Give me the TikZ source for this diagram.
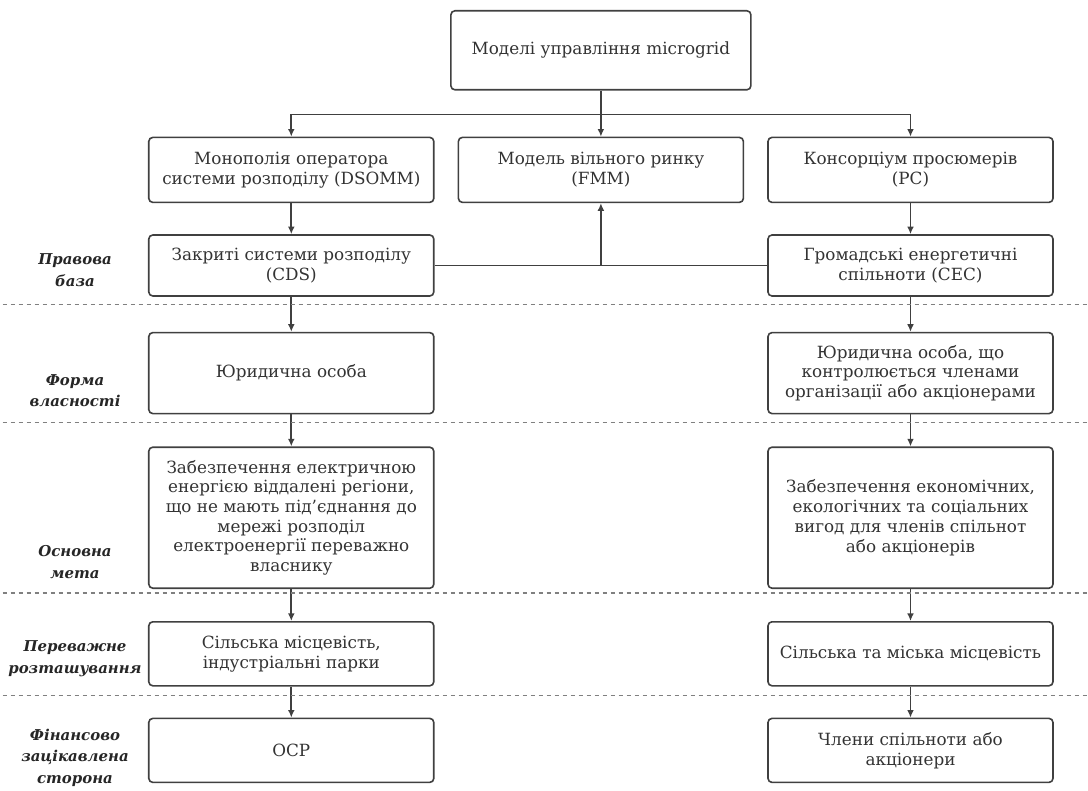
\documentclass[tikz,border=0pt]{standalone}
\usepackage{fontspec}
\setmainfont{DejaVu Serif}
\usetikzlibrary{arrows.meta, positioning}

\begin{document}
\begin{tikzpicture}[
    font=\fontsize{12.6}{14.8}\selectfont,
    node distance=23.25pt and 17.25pt,
    box/.style={draw=black!75, line width=1.2pt, rounded corners=3pt, fill=white,
                minimum width=213.75pt, align=center, text=black!80, inner sep=3pt},
    rowname/.style={align=center, text=black!85,
                    font=\fontsize{11.2}{16}\selectfont\bfseries\itshape},
    conn/.style={draw=black!75, line width=1.3pt},
    arrow/.style={conn, -{Latex[length=2mm, width=1.8mm]}},
    rowsep/.style={draw=black!50, line width=1pt, dash pattern=on 3.5pt off 2.5pt}
]

% --- Top ---
\node[box, minimum width=225pt, minimum height=59.25pt] (models) {Моделі управління microgrid};
\coordinate[below=18pt of models] (split);

% --- Models ---
\node[box, minimum height=48.75pt, below=34.5pt of models] (fmm) {Модель вільного ринку\\(FMM)};
\node[box, minimum height=48.75pt, left=of fmm] (dsomm) {Монополія оператора\\системи розподілу (DSOMM)};
\node[box, minimum height=48.75pt, right=of fmm] (pc) {Консорціум просюмерів\\(PC)};

\draw[conn] (models) -- (split);
\draw[arrow] (split) -| (dsomm.north);
\draw[arrow] (split) -- (fmm);
\draw[arrow] (split) -| (pc.north);

% --- Rows ---
\node[box, minimum height=45.75pt, below=of dsomm] (cds) {Закриті системи розподілу\\(CDS)};
\node[box, minimum height=45.75pt, below=of pc] (cec) {Громадські енергетичні\\спільноти (CEC)};
\node[box, minimum height=60.75pt, below=26.25pt of cds] (orgl) {Юридична особа};
\node[box, minimum height=60.75pt, below=26.25pt of cec] (orgr)
     {Юридична особа, що\\контролюється членами\\організації або акціонерами};
\node[box, minimum height=105.75pt, below=24pt of orgl] (goall)
     {Забезпечення електричною\\енергією віддалені регіони,\\що не мають під’єднання до\\мережі розподіл\\електроенергії переважно\\власнику};
\node[box, minimum height=105.75pt, below=24pt of orgr] (goalr)
     {Забезпечення економічних,\\екологічних та соціальних\\вигод для членів спільнот\\або акціонерів};
\node[box, minimum height=48pt, below=24pt of goall] (areal) {Сільська місцевість,\\індустріальні парки};
\node[box, minimum height=48pt, below=24pt of goalr] (arear) {Сільська та міська місцевість};
\node[box, minimum height=48pt, below=of areal] (partyl) {ОСР};
\node[box, minimum height=48pt, below=of arear] (partyr) {Члени спільноти або\\акціонери};

\draw[arrow] (dsomm) -- (cds);
\draw[arrow] (pc) -- (cec);
\draw[conn] (cds) -- (cec);
\draw[arrow] (cds -| fmm) -- (fmm);

\draw[arrow] (cds) -- (orgl);
\draw[arrow] (orgl) -- (goall);
\draw[arrow] (goall) -- (areal);
\draw[arrow] (areal) -- (partyl);
\draw[arrow] (cec) -- (orgr);
\draw[arrow] (orgr) -- (goalr);
\draw[arrow] (goalr) -- (arear);
\draw[arrow] (arear) -- (partyr);

% --- Frame ---
\path (dsomm.west |- models.north) ++(-111pt,7.5pt) coordinate (nw);
\useasboundingbox (nw) rectangle ++(816pt,-593.25pt);

% --- Row separators ---
\draw[rowsep] (nw |- cds.south) ++(2pt,-6pt) -- ++(814pt,0);
\draw[rowsep] (nw |- orgl.south) ++(2pt,-6pt) -- ++(814pt,0);
\draw[rowsep] (nw |- goall.south) ++(2pt,-3pt) -- ++(814pt,0);
\draw[rowsep] (nw |- areal.south) ++(2pt,-6.75pt) -- ++(814pt,0);
\draw[rowsep] (nw |- partyl.south) ++(2pt,-12.75pt) -- ++(814pt,0);

% --- Row names ---
\path (nw |- cds) ++(56.25pt,-3.4pt) node[rowname] (nbase) {Правова\\база};
\path (nw |- orgl) ++(56.25pt,-13.1pt) node[rowname] (nform) {Форма\\власності};
\path (nw |- goall) ++(56.25pt,-33.2pt) node[rowname] (ngoal) {Основна\\мета};
\path (nw |- areal) ++(56.25pt,-3.8pt) node[rowname] (narea) {Переважне\\розташування};
\path (nw |- partyl) ++(56.25pt,-5.5pt) node[rowname] (nparty) {Фінансово\\зацікавлена\\сторона};

\end{tikzpicture}
\end{document}
